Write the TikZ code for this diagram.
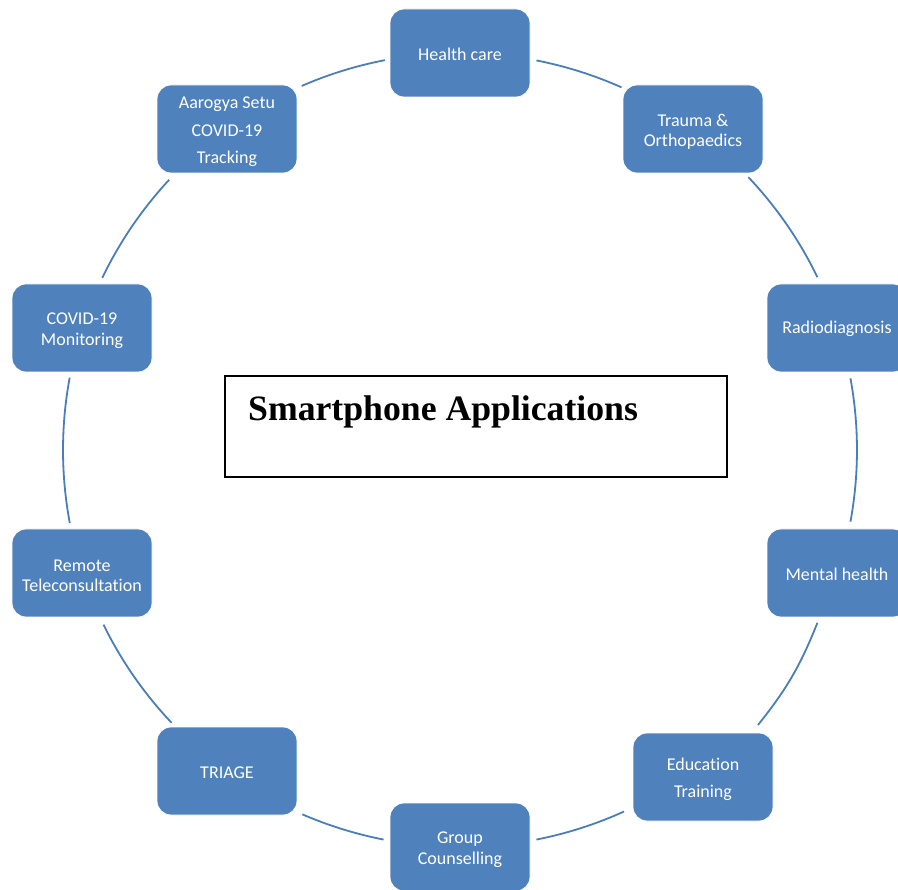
\documentclass[tikz,border=0pt]{standalone}
\usepackage{fontspec}
\usetikzlibrary{calc}
\setmainfont{Carlito}[Ligatures={NoCommon}]
\newfontfamily\titlefont{Liberation Serif}
\definecolor{boxblue}{HTML}{4F81BD}
\definecolor{arcblue}{HTML}{4A7EBB}
\newcommand\toplinestrut{\rule{0pt}{17.5pt}}
\begin{document}
\begin{tikzpicture}[x=1pt,y=-1pt,
  appbox/.style={draw=white, line width=0.8pt, fill=boxblue, rounded corners=14pt,
    minimum width=140pt, minimum height=88pt, inner sep=0pt, align=center,
    text=white, font=\fontsize{18}{20.5}\selectfont,
    execute at begin node={\rule{0pt}{15pt}}},
  ring/.style={draw=arcblue, line width=1.8pt},
  titlebox/.style={draw=black, line width=1.8pt, minimum width=502pt, minimum height=101pt, inner sep=0pt}]
\useasboundingbox (0,0) rectangle (898,890);
\coordinate (ctr) at (460,450);
\node[appbox] (hc) at (460,53) {Health care};
\node[appbox] (tr) at (693,129) {\toplinestrut Trauma \&\\Orthopaedics};
\node[appbox] (rd) at (837,328) {Radiodiagnosis};
\node[appbox] (mh) at (837,573) {Mental health};
\node[appbox] (ed) at (703,777) {\toplinestrut Education\\[7pt]Training};
\node[appbox] (gc) at (460,847) {\toplinestrut Group\\Counselling};
\node[appbox] (tg) at (227,771) {TRIAGE};
\node[appbox] (rt) at (82,573) {\toplinestrut Remote\\Teleconsultation};
\node[appbox] (cm) at (82,328) {\toplinestrut COVID-19\\Monitoring};
\node[appbox] (as) at (227,129) {\toplinestrut Aarogya Setu\\[7pt]COVID-19\\[7pt]Tracking};
% ring segments between neighbouring boxes (on the circle round ctr)
\foreach \a/\b in {-78.9/-66, -43.4/-25.8, -10.4/10.4, 65.6/78.9,
                   101.1/113.4, 136.6/153.9, 169.4/190.5, 205.7/222.9, 246.5/259.1}
  \draw[ring] (ctr) ++(\a:397) arc[start angle=\a, end angle=\b, radius=397];
\draw[ring] ($(ctr)+(25.8:397)$) to[bend left=8.5] ($(ctr)+(42.7:405.5)$);
\node[titlebox] (tb) at (476,426.5) {};
\node[anchor=base west, inner sep=0pt, font=\titlefont\bfseries\fontsize{35.7}{40}\selectfont] (tt) at (248,421) {Smartphone Applications};
\end{tikzpicture}
\end{document}
